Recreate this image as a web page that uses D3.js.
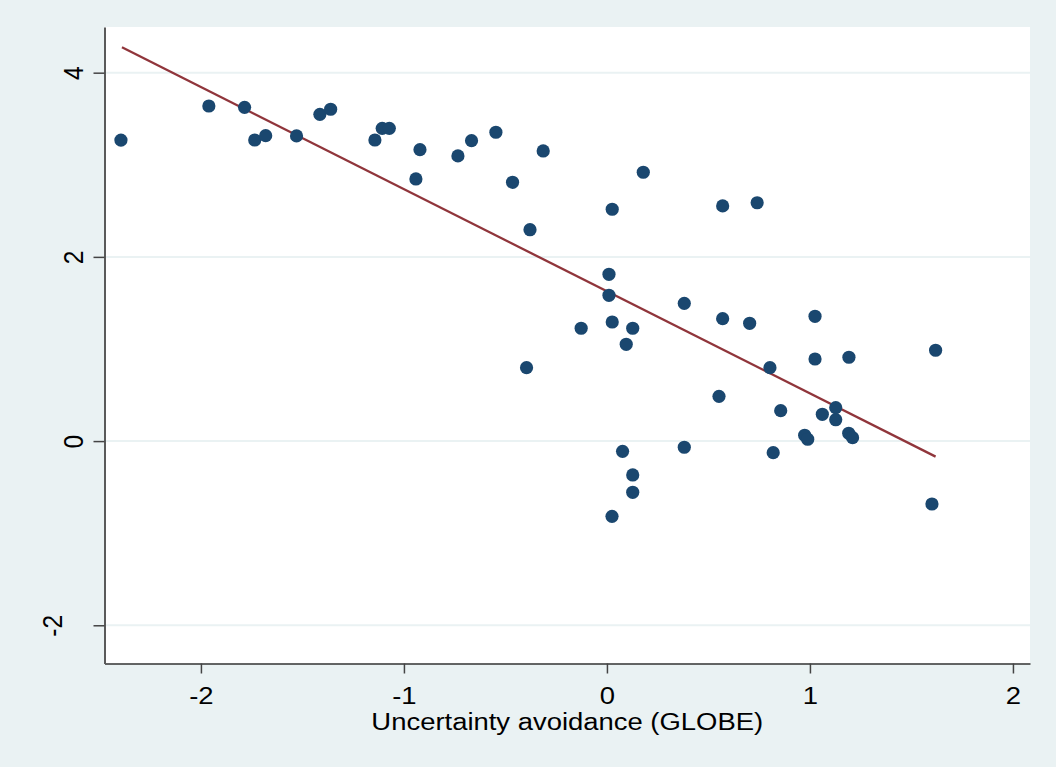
<!DOCTYPE html>
<html>
<head>
<meta charset="utf-8">
<script src="https://cdn.jsdelivr.net/npm/d3@7"></script>
<style>
  html, body { margin: 0; padding: 0; background: #EAF2F3; }
  svg { display: block; }
  text { font-family: "Liberation Sans", Arial, sans-serif; fill: #000; }
</style>
</head>
<body>
<svg id="chart" width="1056" height="767"></svg>
<script>
// Uncertainty avoidance (GLOBE) on the x axis, outcome on the y axis
const uaScores = [
  -2.394, -1.961, -1.785, -1.735, -1.681, -1.529, -1.414, -1.361, -1.143, -1.107,
  -1.072, -0.921, -0.941, -0.734, -0.667, -0.547, -0.314, -0.465, -0.379, 0.026,
   0.179,  0.010,  0.010, -0.127,  0.026,  0.127,  0.095, -0.396,  0.381, 0.570,
   0.740,  0.570,  0.703,  1.025,  0.803,  1.025,  1.192,  1.619,  0.552, 0.856,
   1.061,  1.127,  1.127,  0.974,  0.989,  1.191,  1.210,  0.819,  1.601, 0.077,
   0.381,  0.127,  0.127,  0.025
];
const outcome = [
   3.268,  3.638,  3.624,  3.269,  3.316,  3.313,  3.548,  3.603,  3.269,  3.396,
   3.396,  3.164,  2.846,  3.096,  3.262,  3.353,  3.150,  2.810,  2.295,  2.517,
   2.919,  1.811,  1.583,  1.225,  1.293,  1.225,  1.051,  0.797,  1.496,  2.553,
   2.588,  1.329,  1.279,  1.355,  0.797,  0.891,  0.910,  0.986,  0.486,  0.330,
   0.291,  0.363,  0.232,  0.063,  0.020,  0.085,  0.037, -0.126, -0.683, -0.111,
  -0.067, -0.368, -0.556, -0.817
];
// Linear fit, evaluated at the smallest and largest x
const fitX = [-2.389, 1.619];
const fitY = [4.276, -0.169];

const xTicks = [-2, -1, 0, 1, 2];
const yTicks = [-2, 0, 2, 4];
const xTitle = "Uncertainty avoidance (GLOBE)";

const points = uaScores.map((x, i) => ({ x, y: outcome[i] }));
const fitLine = fitX.map((x, i) => ({ x, y: fitY[i] }));

const svg = d3.select("#chart");
const plot = { left: 104.5, right: 1030, top: 27, bottom: 663.5 };
const stretch = 1.12;   // glyphs are drawn slightly wide
const fontPx = 24.5;

const x = d3.scaleLinear().domain([-2.475, 2.084]).range([plot.left, plot.right]);
const y = d3.scaleLinear().domain([-2.415, 4.496]).range([plot.bottom, plot.top]);

// Plot region
svg.append("rect")
  .attr("x", plot.left).attr("y", plot.top)
  .attr("width", plot.right - plot.left).attr("height", plot.bottom - plot.top)
  .attr("fill", "#ffffff");

// Horizontal grid lines
svg.append("g").selectAll("line").data(yTicks).join("line")
  .attr("x1", plot.left).attr("x2", plot.right)
  .attr("y1", d => y(d)).attr("y2", d => y(d))
  .attr("stroke", "#EAF2F3").attr("stroke-width", 2);

// Fitted line
svg.append("path")
  .datum(fitLine)
  .attr("fill", "none")
  .attr("stroke", "#90353B")
  .attr("stroke-width", 2.3)
  .attr("d", d3.line().x(d => x(d.x)).y(d => y(d.y)));

// Scatter markers
svg.append("g").selectAll("circle").data(points).join("circle")
  .attr("cx", d => x(d.x)).attr("cy", d => y(d.y))
  .attr("r", 6.6)
  .attr("fill", "#1A476F");

// X axis
const gx = svg.append("g")
  .attr("transform", `translate(0,${plot.bottom})`)
  .call(d3.axisBottom(x).tickValues(xTicks).tickSize(10).tickSizeOuter(0)
        .tickFormat(d3.format("d")));
gx.select(".domain").attr("stroke", "#333").attr("stroke-width", 1.6);
gx.selectAll(".tick line").attr("stroke", "#444").attr("stroke-width", 1.5);
gx.selectAll(".tick text")
  .attr("y", 41).attr("dy", null)
  .attr("font-size", fontPx)
  .attr("font-family", "Liberation Sans, Arial, sans-serif")
  .attr("fill", "#000")
  .attr("text-anchor", "middle")
  .attr("transform", `scale(${stretch},1)`)
  .text(d => d3.format("d")(d).replace("−", "-"));

// Y axis with vertical labels
const gy = svg.append("g")
  .attr("transform", `translate(${plot.left},0)`)
  .call(d3.axisLeft(y).tickValues(yTicks).tickSize(11).tickSizeOuter(0));
gy.select(".domain").attr("stroke", "#5a5a5a").attr("stroke-width", 2);
gy.selectAll(".tick line").attr("stroke", "#444").attr("stroke-width", 1.5);
gy.selectAll(".tick text")
  .attr("x", 0).attr("y", 0).attr("dx", null).attr("dy", null)
  .attr("font-size", fontPx)
  .attr("font-family", "Liberation Sans, Arial, sans-serif")
  .attr("fill", "#000")
  .attr("text-anchor", "middle")
  .attr("transform", d => `translate(${d < 0 ? -42.8 : -21.2},0) scale(${stretch},1) rotate(-90)`)
  .text(d => String(d));

// Axis title
svg.append("text")
  .attr("transform", `translate(${(plot.left + plot.right) / 2},730) scale(${stretch},1)`)
  .attr("text-anchor", "middle")
  .attr("font-size", fontPx)
  .text(xTitle);
</script>
</body>
</html>
